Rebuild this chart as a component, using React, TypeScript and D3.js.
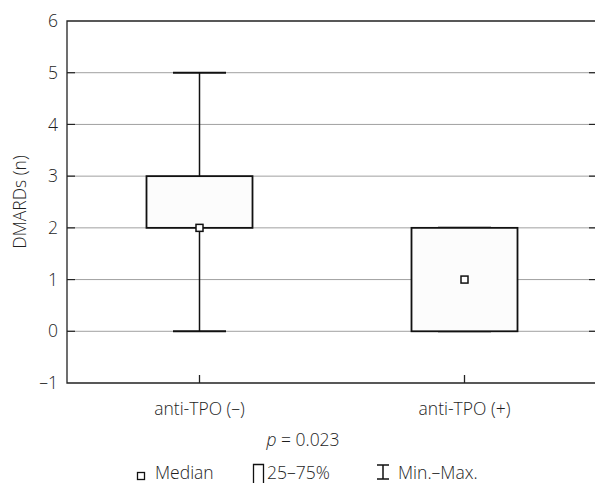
import React, { useRef, useEffect } from 'react';
import * as d3 from 'd3';

// Data
const categories = ['anti-TPO (–)', 'anti-TPO (+)'];
const minValues = [0, 0];
const q1Values = [2, 0];
const medianValues = [2, 1];
const q3Values = [3, 2];
const maxValues = [5, 2];
const yTicks = [-1, 0, 1, 2, 3, 4, 5, 6];

const FONT = '"Open Sans", "DejaVu Sans", sans-serif';
const FS = '17.5px';
const TEXT = '#1e1e1e';

function BoxChart({ width = 595, height = 483 }) {
  const svgRef = useRef<SVGSVGElement | null>(null);

  useEffect(() => {
    const root = d3.select(svgRef.current);
    root.selectAll('*').remove();

    const margin = { top: 21, right: -2, bottom: 100, left: 67 };
    const innerWidth = width - margin.left - margin.right;
    const innerHeight = height - margin.top - margin.bottom;

    const xScale = d3.scaleBand().domain(categories).range([0, innerWidth]);
    const yScale = d3.scaleLinear().domain([-1, 6]).range([innerHeight, 0]);

    const svg = root.append('g').attr('transform', `translate(${margin.left},${margin.top})`);

    const inner = yTicks.filter(t => t > -1 && t < 6);

    // Gridlines
    svg.selectAll('.grid')
      .data(inner)
      .enter()
      .append('line')
      .attr('x1', 0)
      .attr('x2', innerWidth)
      .attr('y1', d => yScale(d))
      .attr('y2', d => yScale(d))
      .attr('stroke', '#a0a0a0')
      .attr('stroke-width', 1);

    // Inner ticks left and right
    svg.selectAll('.ytick-l')
      .data(inner)
      .enter()
      .append('line')
      .attr('x1', 0)
      .attr('x2', 8)
      .attr('y1', d => yScale(d))
      .attr('y2', d => yScale(d))
      .attr('stroke', '#222')
      .attr('stroke-width', 1.2);
    svg.selectAll('.ytick-r')
      .data(inner)
      .enter()
      .append('line')
      .attr('x1', innerWidth - 8)
      .attr('x2', innerWidth)
      .attr('y1', d => yScale(d))
      .attr('y2', d => yScale(d))
      .attr('stroke', '#222')
      .attr('stroke-width', 1.2);

    // Frame: top, left, bottom
    svg.append('path')
      .attr('d', `M${innerWidth},0H0V${innerHeight}H${innerWidth}`)
      .attr('fill', 'none')
      .attr('stroke', '#222')
      .attr('stroke-width', 1.3);

    // Y tick labels
    svg.selectAll('.ylabel')
      .data(yTicks)
      .enter()
      .append('text')
      .attr('x', -9)
      .attr('y', d => yScale(d))
      .attr('dy', '0.35em')
      .attr('text-anchor', 'end')
      .style('font-family', FONT)
      .style('font-size', FS)
      .style('font-weight', 300)
      .style('fill', TEXT)
      .text(d => (d < 0 ? `–${Math.abs(d)}` : `${d}`));

    // X ticks (inward) and labels
    svg.selectAll('.xtick')
      .data(categories)
      .enter()
      .append('line')
      .attr('x1', d => xScale(d)! + xScale.bandwidth() / 2)
      .attr('x2', d => xScale(d)! + xScale.bandwidth() / 2)
      .attr('y1', innerHeight)
      .attr('y2', innerHeight - 8)
      .attr('stroke', '#222')
      .attr('stroke-width', 1.3);

    svg.selectAll('.xlabel')
      .data(categories)
      .enter()
      .append('text')
      .attr('x', d => xScale(d)! + xScale.bandwidth() / 2)
      .attr('y', innerHeight + 32)
      .attr('text-anchor', 'middle')
      .style('font-family', FONT)
      .style('font-size', FS)
      .style('font-weight', 300)
      .style('fill', TEXT)
      .text(d => d);

    // Y axis title
    svg.append('text')
      .attr('transform', 'rotate(-90)')
      .attr('x', -innerHeight / 2)
      .attr('y', -41)
      .attr('text-anchor', 'middle')
      .style('font-family', FONT)
      .style('font-size', FS)
      .style('font-weight', 300)
      .style('fill', TEXT)
      .text('DMARDs (n)');

    const boxW = xScale.bandwidth() * 0.4;
    const capW = xScale.bandwidth() * 0.2;

    categories.forEach((c, i) => {
      const cx = xScale(c)! + xScale.bandwidth() / 2;

      // whiskers
      svg.append('line')
        .attr('x1', cx).attr('x2', cx)
        .attr('y1', yScale(maxValues[i])).attr('y2', yScale(q3Values[i]))
        .attr('stroke', '#111').attr('stroke-width', 1.5);
      svg.append('line')
        .attr('x1', cx).attr('x2', cx)
        .attr('y1', yScale(q1Values[i])).attr('y2', yScale(minValues[i]))
        .attr('stroke', '#111').attr('stroke-width', 1.5);
      [maxValues[i], minValues[i]].forEach(v => {
        svg.append('line')
          .attr('x1', cx - capW / 2).attr('x2', cx + capW / 2)
          .attr('y1', yScale(v)).attr('y2', yScale(v))
          .attr('stroke', '#111').attr('stroke-width', 2);
      });

      // box
      svg.append('rect')
        .attr('x', cx - boxW / 2)
        .attr('y', yScale(q3Values[i]))
        .attr('width', boxW)
        .attr('height', yScale(q1Values[i]) - yScale(q3Values[i]))
        .attr('fill', '#fcfcfc')
        .attr('stroke', '#111')
        .attr('stroke-width', 1.8);

      // median
      svg.append('rect')
        .attr('x', cx - 3.5)
        .attr('y', yScale(medianValues[i]) - 3.5)
        .attr('width', 7)
        .attr('height', 7)
        .attr('fill', '#fff')
        .attr('stroke', '#111')
        .attr('stroke-width', 1.5);
    });

    // p value
    const pText = root.append('text')
      .attr('x', 303)
      .attr('y', 446)
      .attr('text-anchor', 'middle')
      .style('font-family', FONT)
      .style('font-size', FS)
      .style('font-weight', 300)
      .style('fill', TEXT);
    pText.append('tspan').style('font-style', 'italic').text('p');
    pText.append('tspan').text(' = 0.023');

    // Legend
    const legend = root.append('g');
    legend.append('rect')
      .attr('x', 137.5).attr('y', 472.5).attr('width', 7).attr('height', 7)
      .attr('fill', '#fff').attr('stroke', '#111').attr('stroke-width', 1.3);
    legend.append('text')
      .attr('x', 155).attr('y', 479)
      .style('font-family', FONT).style('font-size', FS).style('font-weight', 300).style('fill', TEXT)
      .text('Median');

    legend.append('path')
      .attr('d', 'M253.5,490V464.5H263.5V490')
      .attr('fill', 'none').attr('stroke', '#111').attr('stroke-width', 1.3);
    legend.append('text')
      .attr('x', 267).attr('y', 479)
      .style('font-family', FONT).style('font-size', FS).style('font-weight', 300).style('fill', TEXT)
      .text('25–75%');

    legend.append('path')
      .attr('d', 'M377,465H389M383,465V479M377,479H389')
      .attr('fill', 'none').attr('stroke', '#111').attr('stroke-width', 1.5);
    legend.append('text')
      .attr('x', 398).attr('y', 479)
      .style('font-family', FONT).style('font-size', FS).style('font-weight', 300).style('fill', TEXT)
      .text('Min.–Max.');
  }, [width, height]);

  return <svg ref={svgRef} width={width} height={height} style={{ display: 'block' }}></svg>;
}

export default function App() {
  return (
    <div style={{ position: 'absolute', left: 0, top: 0 }}>
      <BoxChart />
    </div>
  );
}
